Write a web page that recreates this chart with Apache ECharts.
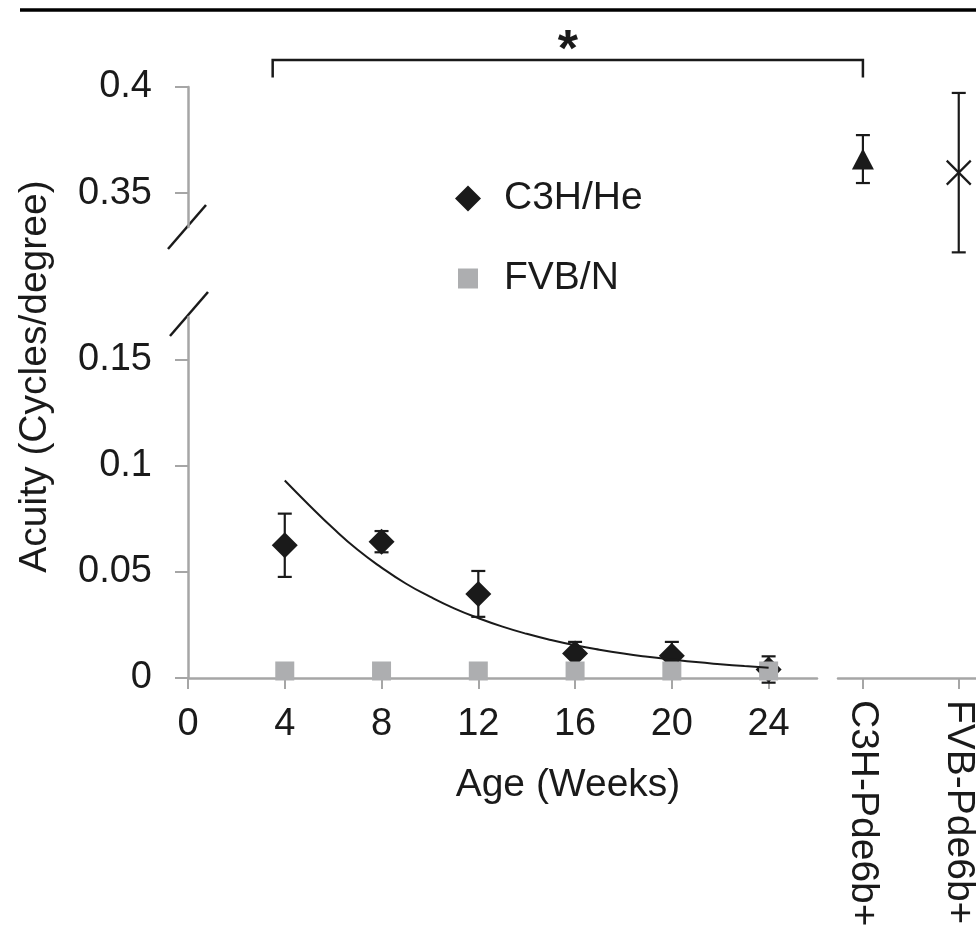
<!DOCTYPE html>
<html>
<head>
<meta charset="utf-8">
<script src="https://cdn.jsdelivr.net/npm/echarts@6/dist/echarts.min.js"></script>
<style>
html, body { margin: 0; padding: 0; background: #fff; }
#main { width: 976px; height: 926px; }
</style>
</head>
<body>
<div id="main"></div>
<script>
// C3H/He and FVB/N acuity by age
var weeks = [4, 8, 12, 16, 20, 24];
var c3hMean = [0.0625, 0.0642, 0.0396, 0.0115, 0.0105, 0.004];
var c3hErr = [0.0149, 0.0050, 0.0108, 0.0055, 0.0065, 0.0062];
var fvbMean = [0.0033, 0.0033, 0.0033, 0.0033, 0.0033, 0.0033];

// fitted trend line
var fitWeeks = [4, 5, 6, 7, 8, 9, 10, 11, 12, 13, 14, 15, 16, 17, 18, 19, 20, 21, 22, 23, 24];
var fitValues = [0.093, 0.0815, 0.0705, 0.0605, 0.052, 0.0445, 0.0383, 0.0328, 0.0282, 0.0242, 0.0208,
	0.0179, 0.0154, 0.0133, 0.0115, 0.0100, 0.0087, 0.0075, 0.0065, 0.0056, 0.0048];

// Pde6b+ strains (right hand part, upper scale)
var pdeNames = ['C3H-Pde6b+', 'FVB-Pde6b+'];
var pdePos = [1, 2];
var pdeMean = [0.366, 0.3596];
var pdeErr = [0.0113, 0.0376];

var xTicks = [0, 4, 8, 12, 16, 20, 24];
var yTicksLow = [0, 0.05, 0.1, 0.15];
var yTicksHigh = [0.35, 0.4];

// significance bracket: from week 3.5 to C3H-Pde6b+
var bracketFrom = 3.5;
var bracketTo = 1;
var bracketTop = 0.4127;
var bracketFoot = 0.4045;

var font = 'Liberation Sans, Arial, sans-serif';
var ink = '#1a1a1a';
var axisGrey = '#a6a6a6';

var c3hData = [], fvbData = [], c3hBars = [], fitData = [], pdeBars = [];
for (var i = 0; i < weeks.length; i++) {
	c3hData.push([weeks[i], c3hMean[i]]);
	fvbData.push([weeks[i], fvbMean[i]]);
	c3hBars.push([weeks[i], c3hMean[i] - c3hErr[i], c3hMean[i] + c3hErr[i]]);
}
for (var i = 0; i < fitWeeks.length; i++) {
	fitData.push([fitWeeks[i], fitValues[i]]);
}
for (var i = 0; i < pdePos.length; i++) {
	pdeBars.push([pdePos[i], pdeMean[i] - pdeErr[i], pdeMean[i] + pdeErr[i]]);
}

function errorBar(params, api) {
	var x = api.value(0);
	var lo = api.coord([x, api.value(1)]);
	var hi = api.coord([x, api.value(2)]);
	var w = 7;
	var st = { stroke: ink, lineWidth: 2.2 };
	return {
		type: 'group',
		children: [
			{ type: 'line', shape: { x1: lo[0], y1: lo[1], x2: hi[0], y2: hi[1] }, style: st },
			{ type: 'line', shape: { x1: lo[0] - w, y1: lo[1], x2: lo[0] + w, y2: lo[1] }, style: st },
			{ type: 'line', shape: { x1: hi[0] - w, y1: hi[1], x2: hi[0] + w, y2: hi[1] }, style: st }
		]
	};
}

var hiddenAxis = { show: false };
var tickLine = { color: axisGrey, width: 2 };

var myChart = echarts.init(document.getElementById('main'));
var option = {
	animation: false,
	backgroundColor: '#fff',
	textStyle: { fontFamily: font },
	legend: {
		orient: 'vertical',
		left: 450,
		top: 174,
		itemWidth: 26,
		itemHeight: 26,
		itemGap: 41,
		selectedMode: false,
		formatter: '{a|{name}}',
		textStyle: {
			rich: { a: { fontSize: 39, lineHeight: 40, color: ink, fontFamily: font, padding: [0, 0, 0, 18] } }
		},
		data: [
			{ name: 'C3H/He', icon: 'diamond' },
			{ name: 'FVB/N', icon: 'path://M0,0M26,26M3,3h20v20h-20z' }
		]
	},
	grid: [
		{ left: 188, right: 159, top: 317, bottom: 248, outerBoundsMode: 'none' },
		{ left: 188, right: 159, top: 87, bottom: 699, outerBoundsMode: 'none' },
		{ left: 838, right: 0, top: 317, bottom: 248, outerBoundsMode: 'none' },
		{ left: 838, right: 0, top: 87, bottom: 627, outerBoundsMode: 'none' },
		{ left: 188, right: 28, top: 75, bottom: 248, outerBoundsMode: 'none' }
	],
	xAxis: [
		{
			gridIndex: 0, type: 'value', min: 0, max: 26,
			axisLine: { onZero: false, lineStyle: { color: axisGrey, width: 2.5 } },
			axisTick: { customValues: xTicks, length: 11, lineStyle: tickLine },
			axisLabel: { customValues: xTicks, fontSize: 38, color: ink, margin: 28 },
			splitLine: { show: false }
		},
		{ gridIndex: 1, type: 'value', min: 0, max: 26, show: false },
		{
			gridIndex: 2, type: 'value', min: 0.74, max: 2.18,
			axisLine: { onZero: false, lineStyle: { color: axisGrey, width: 2.5 } },
			axisTick: { customValues: pdePos, length: 11, lineStyle: tickLine },
			axisLabel: {
				customValues: pdePos, fontSize: 39, color: ink, margin: 22, rotate: -90,
				formatter: function (v) { return pdeNames[pdePos.indexOf(v)]; }
			},
			splitLine: { show: false }
		},
		{ gridIndex: 3, type: 'value', min: 0.74, max: 2.18, show: false },
		{
			gridIndex: 4, type: 'value', min: 0, max: 1,
			name: 'Age (Weeks)', nameLocation: 'middle', nameGap: 88,
			nameTextStyle: { fontSize: 39, color: ink, fontFamily: font },
			axisLine: hiddenAxis, axisTick: hiddenAxis, axisLabel: hiddenAxis, splitLine: hiddenAxis
		}
	],
	yAxis: [
		{
			gridIndex: 0, type: 'value', min: 0, max: 0.17,
			axisLine: { show: true, lineStyle: { color: axisGrey, width: 2.5 } },
			axisTick: { show: true, customValues: yTicksLow, length: 13, lineStyle: tickLine },
			axisLabel: { customValues: yTicksLow, fontSize: 38, color: ink, margin: 36 },
			splitLine: { show: false }
		},
		{
			gridIndex: 1, type: 'value', min: 0.334, max: 0.4,
			axisLine: { show: true, lineStyle: { color: axisGrey, width: 2.5 } },
			axisTick: { show: true, customValues: yTicksHigh, length: 13, lineStyle: tickLine },
			axisLabel: { customValues: yTicksHigh, fontSize: 38, color: ink, margin: 36 },
			splitLine: { show: false }
		},
		{ gridIndex: 2, type: 'value', min: 0, max: 0.17, show: false },
		{ gridIndex: 3, type: 'value', min: 0.3, max: 0.4, show: false },
		{
			gridIndex: 4, type: 'value', min: 0, max: 1,
			name: 'Acuity (Cycles/degree)', nameLocation: 'middle', nameGap: 133,
			nameTextStyle: { fontSize: 39, color: ink, fontFamily: font },
			axisLine: hiddenAxis, axisTick: hiddenAxis, axisLabel: hiddenAxis, splitLine: hiddenAxis
		}
	],
	series: [
		{
			name: 'c3hErr', type: 'custom', xAxisIndex: 0, yAxisIndex: 0, clip: false, z: 2,
			renderItem: errorBar, encode: { x: 0, y: [1, 2] }, data: c3hBars, silent: true
		},
		{
			name: 'C3H/He', type: 'scatter', xAxisIndex: 0, yAxisIndex: 0, clip: false, z: 3,
			symbol: 'diamond', symbolSize: 26, itemStyle: { color: ink, opacity: 1 },
			data: c3hData, silent: true
		},
		{
			name: 'FVB/N', type: 'scatter', xAxisIndex: 0, yAxisIndex: 0, clip: false, z: 4,
			symbol: 'rect', symbolSize: 19, itemStyle: { color: '#adaeb0', opacity: 1 },
			data: fvbData, silent: true
		},
		{
			name: 'fit', type: 'line', xAxisIndex: 0, yAxisIndex: 0, z: 5, smooth: 0.5,
			showSymbol: false, lineStyle: { color: ink, width: 2 }, data: fitData, silent: true
		},
		{
			name: 'pdeErr', type: 'custom', xAxisIndex: 3, yAxisIndex: 3, clip: false, z: 2,
			renderItem: errorBar, encode: { x: 0, y: [1, 2] }, data: pdeBars, silent: true
		},
		{
			name: 'C3H-Pde6b+', type: 'scatter', xAxisIndex: 3, yAxisIndex: 3, clip: false, z: 3,
			symbol: 'triangle', symbolSize: [22, 21], itemStyle: { color: ink, opacity: 1 },
			data: [[pdePos[0], pdeMean[0]]], silent: true
		},
		{
			name: 'FVB-Pde6b+', type: 'scatter', xAxisIndex: 3, yAxisIndex: 3, clip: false, z: 3,
			symbol: 'path://M0,0L24,24M24,0L0,24', symbolSize: 24,
			itemStyle: { color: 'none', borderColor: ink, borderWidth: 2.2, opacity: 1 },
			data: [[pdePos[1], pdeMean[1]]], silent: true
		}
	]
};
myChart.setOption(option);

// bracket, asterisk, axis break marks and top rule
var bl = myChart.convertToPixel({ gridIndex: 1 }, [bracketFrom, bracketTop]);
var blFoot = myChart.convertToPixel({ gridIndex: 1 }, [bracketFrom, bracketFoot]);
var br = myChart.convertToPixel({ gridIndex: 3 }, [bracketTo, bracketTop]);
var brFoot = myChart.convertToPixel({ gridIndex: 3 }, [bracketTo, bracketFoot]);
var breakHi = myChart.convertToPixel({ gridIndex: 1 }, [0, 0.334]);
var breakLo = myChart.convertToPixel({ gridIndex: 0 }, [0, 0.17]);
var lineSt = { stroke: ink, lineWidth: 2.5 };

myChart.setOption({
	graphic: [
		{ type: 'line', shape: { x1: 20, y1: 10, x2: 976, y2: 10 }, style: { stroke: '#000', lineWidth: 3.5 } },
		{
			type: 'polyline',
			shape: { points: [[bl[0], blFoot[1]], [bl[0], bl[1]], [br[0], br[1]], [br[0], brFoot[1]]] },
			style: { stroke: ink, lineWidth: 2.5, fill: null }
		},
		{
			type: 'text', x: (bl[0] + br[0]) / 2, y: bl[1] - 8,
			style: { text: '*', fontSize: 52, fontWeight: 'bold', fontFamily: font, fill: ink, textAlign: 'center', textVerticalAlign: 'middle' }
		},
		{ type: 'line', shape: { x1: breakHi[0] - 20, y1: breakHi[1] + 22, x2: breakHi[0] + 18, y2: breakHi[1] - 22 }, style: lineSt },
		{ type: 'line', shape: { x1: breakLo[0] - 18, y1: breakLo[1] + 19, x2: breakLo[0] + 20, y2: breakLo[1] - 25 }, style: lineSt }
	]
});
</script>
</body>
</html>
